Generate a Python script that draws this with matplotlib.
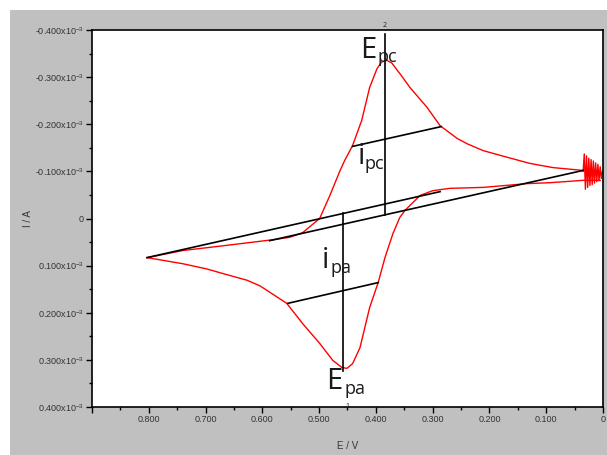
import numpy as np
import matplotlib.pyplot as plt
from matplotlib.patches import Rectangle

# potential (V) and current (x10^-3 A)
e_cath = [0.803, 0.740, 0.663, 0.581, 0.552, 0.529, 0.499, 0.481, 0.463, 0.455,
          0.441, 0.425, 0.411, 0.398, 0.390, 0.381, 0.372, 0.355, 0.340, 0.310, 0.287, 0.257,
          0.240, 0.211, 0.169, 0.129, 0.088, 0.035]
i_cath = [0.083, 0.068, 0.057, 0.045, 0.040, 0.030, 0.000, -0.049, -0.102, -0.123,
          -0.155, -0.208, -0.278, -0.318, -0.332, -0.336, -0.330, -0.303, -0.278, -0.236, -0.197, -0.170,
          -0.159, -0.144, -0.130, -0.117, -0.108, -0.102]

e_anod = [0.803, 0.740, 0.698, 0.663, 0.627, 0.604, 0.557, 0.529, 0.499, 0.476,
          0.460, 0.451, 0.441, 0.428, 0.411, 0.396, 0.384, 0.370, 0.358, 0.349,
          0.322, 0.300, 0.270, 0.211, 0.134, 0.093, 0.035, 0.005]
i_anod = [0.083, 0.096, 0.107, 0.119, 0.131, 0.143, 0.180, 0.223, 0.265, 0.301,
          0.316, 0.318, 0.308, 0.274, 0.189, 0.136, 0.083, 0.032, -0.002, -0.017,
          -0.049, -0.059, -0.064, -0.066, -0.074, -0.076, -0.081, -0.081]

# noisy switching region at the start of the scan
e_noise = [0.035, 0.033, 0.031, 0.029, 0.027, 0.025, 0.023, 0.021, 0.019, 0.017,
           0.015, 0.013, 0.011, 0.009, 0.007, 0.005, 0.003, 0.001]
i_noise = [-0.100, -0.137, -0.062, -0.133, -0.066, -0.128, -0.070, -0.125, -0.072, -0.122,
           -0.075, -0.118, -0.078, -0.115, -0.080, -0.110, -0.085, -0.100]

# baselines
base_a_e = [0.803, 0.287]
base_a_i = [0.083, -0.057]
base_b_e = [0.587, 0.035]
base_b_i = [0.047, -0.102]

# peak markers
epc_e, epc_i = [0.384, 0.384], [-0.392, -0.008]
epa_e, epa_i = [0.458, 0.458], [-0.011, 0.323]
ipc_e, ipc_i = [0.441, 0.285], [-0.153, -0.195]
ipa_e, ipa_i = [0.555, 0.396], [0.180, 0.136]

x_ticks = [0.9, 0.8, 0.7, 0.6, 0.5, 0.4, 0.3, 0.2, 0.1, 0.0]
x_labels = ['', '0.800', '0.700', '0.600', '0.500', '0.400', '0.300', '0.200', '0.100', '0']
y_ticks = [-0.4, -0.3, -0.2, -0.1, 0.0, 0.1, 0.2, 0.3, 0.4]
y_labels = [r'-0.400x10$^{-3}$', r'-0.300x10$^{-3}$', r'-0.200x10$^{-3}$', r'-0.100x10$^{-3}$', '0',
            r'0.100x10$^{-3}$', r'0.200x10$^{-3}$', r'0.300x10$^{-3}$', r'0.400x10$^{-3}$']

plt.rcParams['font.family'] = ['Liberation Sans', 'DejaVu Sans']
plt.rcParams['mathtext.fontset'] = 'custom'
plt.rcParams['mathtext.rm'] = 'Liberation Sans'

fig = plt.figure(figsize=(6.07, 4.55), dpi=100)
fig.patch.set_facecolor('white')
fig.patches.append(Rectangle((10 / 607, 0), 597 / 607, 445 / 455, transform=fig.transFigure,
                             facecolor='#c0c0c0', edgecolor='none', zorder=-10))

ax = fig.add_axes([92 / 607, 1 - 407 / 455, 511 / 607, 377 / 455])
ax.set_facecolor('white')

ax.plot(e_cath, i_cath, color='red', lw=1)
ax.plot(e_anod, i_anod, color='red', lw=1)
ax.plot(e_noise, i_noise, color='red', lw=1)

for xs, ys in [(base_a_e, base_a_i), (base_b_e, base_b_i), (epc_e, epc_i),
               (epa_e, epa_i), (ipc_e, ipc_i), (ipa_e, ipa_i)]:
    ax.plot(xs, ys, color='black', lw=1.2)

ax.set_xlim(0.9, 0.0)
ax.set_ylim(0.4, -0.4)

ax.set_xticks(x_ticks)
ax.set_xticklabels(x_labels)
ax.set_xticks(np.arange(0.05, 0.9, 0.1), minor=True)
ax.set_yticks(y_ticks)
ax.set_yticklabels(y_labels)
ax.set_yticks(np.arange(-0.35, 0.4, 0.1), minor=True)
ax.tick_params(which='major', direction='out', length=4, width=1, labelsize=6.5,
               labelcolor='#333333', pad=2)
ax.tick_params(which='minor', direction='out', length=2.5, width=1)
for s in ax.spines.values():
    s.set_linewidth(1.2)

ax.set_xlabel('E / V', fontsize=7, color='#333333', labelpad=12)
ax.set_ylabel('I / A', fontsize=7, color='#333333', labelpad=6)
ax.yaxis.set_label_coords(-0.115, 0.5)

txt = dict(color='#1a1a1a', family='Open Sans')
ax.text(0.428, -0.340, 'E', fontsize=21, ha='left', va='baseline', **txt)
ax.text(0.397, -0.333, 'pc', fontsize=13, ha='left', va='baseline', **txt)
ax.text(0.432, -0.116, 'i', fontsize=21, ha='left', va='baseline', **txt)
ax.text(0.420, -0.104, 'pc', fontsize=13, ha='left', va='baseline', **txt)
ax.text(0.495, 0.106, 'i', fontsize=21, ha='left', va='baseline', **txt)
ax.text(0.480, 0.116, 'pa', fontsize=13, ha='left', va='baseline', **txt)
ax.text(0.487, 0.361, 'E', fontsize=21, ha='left', va='baseline', **txt)
ax.text(0.456, 0.372, 'pa', fontsize=13, ha='left', va='baseline', **txt)
ax.text(0.384, -0.402, '2', fontsize=5, ha='center', va='bottom', **txt)
ax.text(0.451, 0.398, '1', fontsize=5, ha='center', va='center', **txt)

fig.savefig('out.png', dpi=100)
